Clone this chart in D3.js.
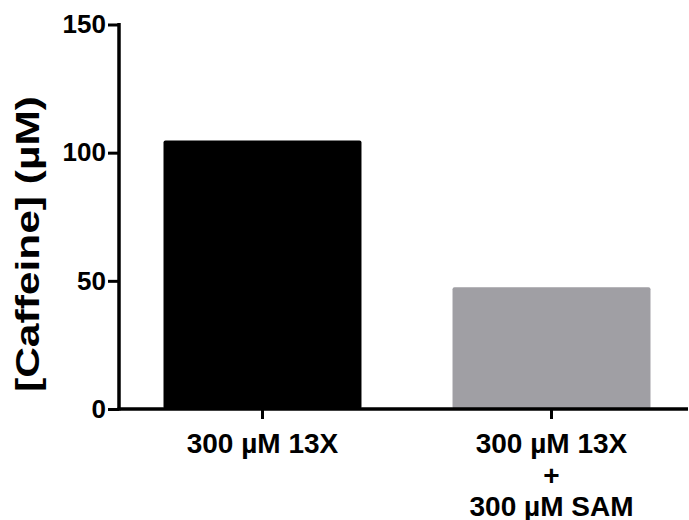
<html lang="en">
<head>
    <meta charset="UTF-8">
    <title>Caffeine</title>
    <script src="https://d3js.org/d3.v7.min.js"></script>
    <style>
        body { margin: 0; background: #fff; }
        svg { font-family: "Liberation Sans", Arial, sans-serif; font-weight: bold; }
    </style>
</head>
<body>
    <script>
        // data
        const categories = ["300 µM 13X", "300 µM 13X + 300 µM SAM"];
        const labelLines = [["300 µM 13X"], ["300 µM 13X", "+", "300 µM SAM"]];
        const values = [104.7, 47.5];
        const colors = ["#000000", "#a09fa4"];
        const yTicks = [0, 50, 100, 150];

        const width = 689, height = 520;
        const margin = { top: 24.5, right: 0, bottom: 111, left: 119 };

        const svg = d3.select("body").append("svg")
            .attr("width", width)
            .attr("height", height);

        const y = d3.scaleLinear()
            .domain([0, 150])
            .range([height - margin.bottom, margin.top]);

        const x = d3.scaleBand()
            .domain(categories)
            .range([margin.left, 695])
            .paddingInner(0.315)
            .paddingOuter(0.154);

        // bars
        svg.append("g")
            .selectAll("rect")
            .data(values)
            .join("rect")
            .attr("x", (d, i) => x(categories[i]))
            .attr("y", d => y(d))
            .attr("width", x.bandwidth())
            .attr("height", d => y(0) - y(d))
            .attr("rx", 2)
            .attr("fill", (d, i) => colors[i]);

        // y axis
        const yAxis = svg.append("g")
            .attr("transform", `translate(${margin.left},0)`)
            .call(d3.axisLeft(y).tickValues(yTicks).tickSize(11).tickPadding(2).tickSizeOuter(0));
        yAxis.select(".domain").attr("stroke-width", 3.5).attr("d", `M0,${y(150) - 1.5}V${y(0) + 1.5}`);
        yAxis.selectAll(".tick line").attr("stroke-width", 3);
        yAxis.selectAll(".tick text")
            .attr("font-size", 26)
            .attr("font-family", "Liberation Sans, Arial, sans-serif")
            .attr("font-weight", "bold")
            .attr("fill", "#000");

        // x axis
        const xAxis = svg.append("g")
            .attr("transform", `translate(0,${y(0)})`)
            .call(d3.axisBottom(x).tickSize(10).tickSizeOuter(0).tickFormat(""));
        xAxis.select(".domain").attr("stroke-width", 3.5).attr("d", `M${margin.left - 1.5},0H688`);
        xAxis.selectAll(".tick line").attr("stroke-width", 3);

        // category labels
        const lab = svg.append("g")
            .selectAll("text")
            .data(categories)
            .join("text")
            .attr("x", d => x(d) + x.bandwidth() / 2)
            .attr("y", 453)
            .attr("text-anchor", "middle")
            .attr("font-size", 28)
            .attr("fill", "#000");
        lab.each(function (d, i) {
            d3.select(this).selectAll("tspan")
                .data(labelLines[i])
                .join("tspan")
                .attr("x", x(d) + x.bandwidth() / 2)
                .attr("dy", (t, j) => j === 0 ? 0 : 31.5)
                .text(t => t);
        });

        // y title
        svg.append("text")
            .attr("transform", `translate(39,244) rotate(-90)`)
            .attr("text-anchor", "middle")
            .attr("font-size", 33)
            .attr("textLength", 296)
            .attr("lengthAdjust", "spacingAndGlyphs")
            .attr("fill", "#000")
            .text("[Caffeine] (µM)");
    </script>
</body>
</html>
